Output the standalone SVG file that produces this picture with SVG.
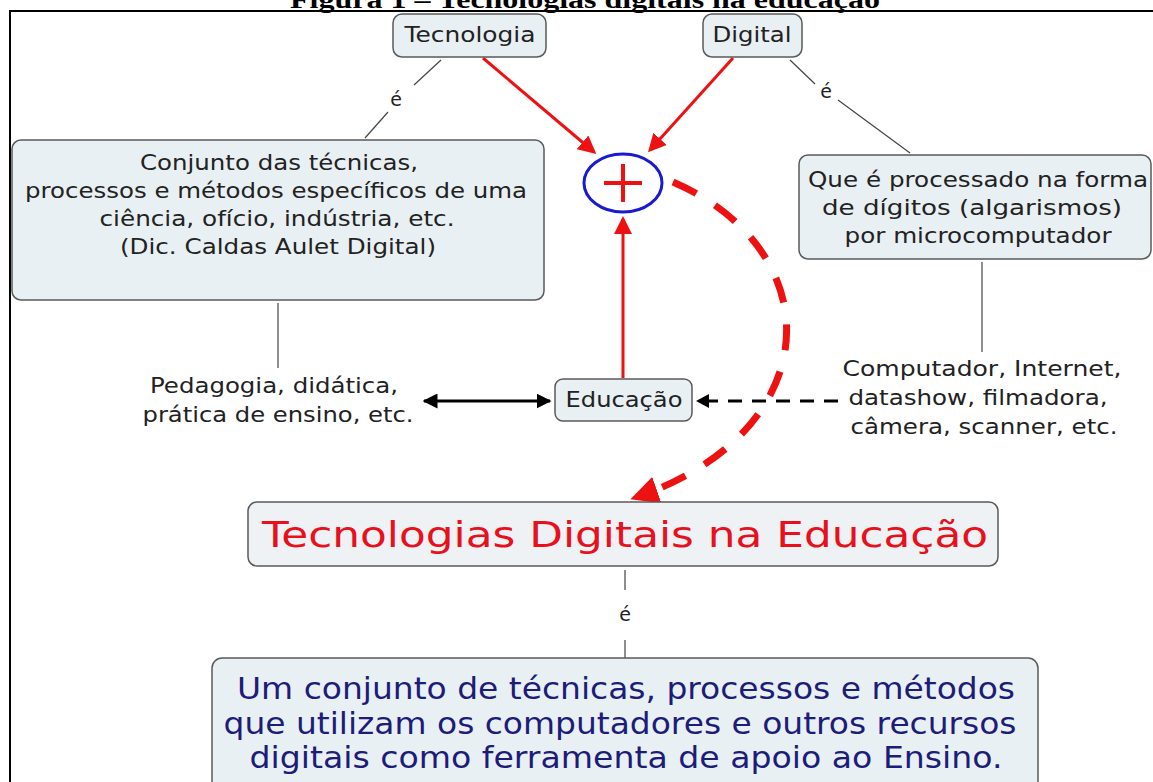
<svg xmlns="http://www.w3.org/2000/svg" width="1153" height="782" viewBox="0 0 1153 782">
<style>
.box{fill:#e9f0f3;stroke:#5a5a5a;stroke-width:1.5}
.t{font-family:"DejaVu Sans",Verdana,sans-serif;fill:#222;text-anchor:middle}
.thin{stroke:#444;stroke-width:1.2;fill:none}
.red{stroke:#ee1111;stroke-width:3;fill:none}
</style>
<defs>
<marker id="ar" markerWidth="6" markerHeight="6" refX="5" refY="3" orient="auto" markerUnits="strokeWidth"><path d="M0,0 L6,3 L0,6 z" fill="#ee1111"/></marker>
<marker id="ard" markerWidth="4" markerHeight="4" refX="3" refY="2" orient="auto" markerUnits="strokeWidth"><path d="M0,0 L4,2 L0,4 z" fill="#ee1111"/></marker>
<marker id="ab" markerWidth="5" markerHeight="5" refX="4.5" refY="2.5" orient="auto-start-reverse" markerUnits="strokeWidth"><path d="M0,0 L5,2.5 L0,5 z" fill="#000"/></marker>
</defs>
<rect width="1153" height="782" fill="#fff"/>
<text x="585" y="8" font-family="Liberation Serif,serif" font-weight="bold" font-size="26" text-anchor="middle" textLength="590" lengthAdjust="spacingAndGlyphs">Figura 1 – Tecnologias digitais na educação</text>
<path d="M10,782 V11 H1153" fill="none" stroke="#000" stroke-width="2"/>

<g id="connectors">
<line class="thin" x1="441" y1="60" x2="414" y2="85"/>
<line class="thin" x1="388" y1="112" x2="365" y2="138"/>
<text class="t" x="396" y="106" font-size="19">é</text>
<line class="thin" x1="790" y1="60" x2="815" y2="84"/>
<line class="thin" x1="838" y1="100" x2="910" y2="153"/>
<text class="t" x="826" y="98" font-size="19">é</text>
<line class="thin" x1="278" y1="303" x2="278" y2="368"/>
<line class="thin" x1="982" y1="262" x2="982" y2="352"/>
<line class="thin" x1="625" y1="570" x2="625" y2="590"/>
<line class="thin" x1="625" y1="640" x2="625" y2="660"/>
<text class="t" x="625" y="621" font-size="19">é</text>
<line class="red" x1="483" y1="58" x2="594" y2="152" marker-end="url(#ar)"/>
<line class="red" x1="733" y1="58" x2="650" y2="150" marker-end="url(#ar)"/>
<line class="red" x1="623" y1="378" x2="623" y2="219" marker-end="url(#ar)"/>
<path d="M673,182 C830,250 830,430 637,497" fill="none" stroke="#ee1111" stroke-width="7" stroke-dasharray="26,22" marker-end="url(#ard)"/>
<line x1="424" y1="401" x2="550" y2="401" stroke="#000" stroke-width="3" marker-start="url(#ab)" marker-end="url(#ab)"/>
<line x1="838" y1="401" x2="698" y2="401" stroke="#000" stroke-width="3" stroke-dasharray="14,10"/>
<path d="M696,401 L709,394 L709,408 z" fill="#000"/>
</g>

<g id="n-tecnologia">
<rect class="box" x="393" y="14" width="153" height="43" rx="9"/>
<text class="t" x="470" y="42" font-size="21" textLength="131" lengthAdjust="spacingAndGlyphs">Tecnologia</text>
</g>
<g id="n-digital">
<rect class="box" x="703" y="14" width="99" height="43" rx="9"/>
<text class="t" x="752" y="42" font-size="21" textLength="79" lengthAdjust="spacingAndGlyphs">Digital</text>
</g>
<g id="n-conjunto">
<rect class="box" x="12" y="140" width="532" height="160" rx="9"/>
<text class="t" x="279" y="170" font-size="21" textLength="278" lengthAdjust="spacingAndGlyphs">Conjunto das técnicas,</text>
<text class="t" x="276" y="198" font-size="21" textLength="502" lengthAdjust="spacingAndGlyphs">processos e métodos específicos de uma</text>
<text class="t" x="277" y="226" font-size="21" textLength="355" lengthAdjust="spacingAndGlyphs">ciência, ofício, indústria, etc.</text>
<text class="t" x="278" y="254" font-size="21" textLength="316" lengthAdjust="spacingAndGlyphs">(Dic. Caldas Aulet Digital)</text>
</g>
<g id="n-plus">
<ellipse cx="623" cy="183" rx="39" ry="29" fill="#fff" stroke="#1a1ad0" stroke-width="3"/>
<path d="M604,183 H642 M623,164 V202" stroke="#ee1111" stroke-width="4"/>
</g>
<g id="n-processado">
<rect class="box" x="799" y="155" width="352" height="104" rx="9"/>
<text class="t" x="978" y="187" font-size="21" textLength="340" lengthAdjust="spacingAndGlyphs">Que é processado na forma</text>
<text class="t" x="972" y="215" font-size="21" textLength="300" lengthAdjust="spacingAndGlyphs">de dígitos (algarismos)</text>
<text class="t" x="978" y="243" font-size="21" textLength="267" lengthAdjust="spacingAndGlyphs">por microcomputador</text>
</g>
<g id="n-pedagogia">
<text class="t" x="274" y="393" font-size="21" textLength="248" lengthAdjust="spacingAndGlyphs">Pedagogia, didática,</text>
<text class="t" x="278" y="422" font-size="21" textLength="271" lengthAdjust="spacingAndGlyphs">prática de ensino, etc.</text>
</g>
<g id="n-educacao">
<rect class="box" x="555" y="379" width="137" height="42" rx="8"/>
<text class="t" x="624" y="407" font-size="21" textLength="117" lengthAdjust="spacingAndGlyphs">Educação</text>
</g>
<g id="n-computador">
<text class="t" x="982" y="376" font-size="21" textLength="279" lengthAdjust="spacingAndGlyphs">Computador, Internet,</text>
<text class="t" x="978" y="405" font-size="21" textLength="259" lengthAdjust="spacingAndGlyphs">datashow, filmadora,</text>
<text class="t" x="984" y="434" font-size="21" textLength="267" lengthAdjust="spacingAndGlyphs">câmera, scanner, etc.</text>
</g>
<g id="n-tde">
<rect class="box" x="248" y="502" width="750" height="64" rx="9" style="fill:#eef2f4"/>
<text class="t" x="625" y="547" font-size="36" style="fill:#e8101c" textLength="726" lengthAdjust="spacingAndGlyphs">Tecnologias Digitais na Educação</text>
</g>
<g id="n-definicao">
<rect class="box" x="212" y="658" width="826" height="140" rx="10"/>
<text class="t" x="626" y="699" font-size="30" style="fill:#1c1c7a" textLength="778" lengthAdjust="spacingAndGlyphs">Um conjunto de técnicas, processos e métodos</text>
<text class="t" x="620" y="734" font-size="30" style="fill:#1c1c7a" textLength="793" lengthAdjust="spacingAndGlyphs">que utilizam os computadores e outros recursos</text>
<text class="t" x="626" y="768" font-size="30" style="fill:#1c1c7a" textLength="753" lengthAdjust="spacingAndGlyphs">digitais como ferramenta de apoio ao Ensino.</text>
</g>
</svg>
